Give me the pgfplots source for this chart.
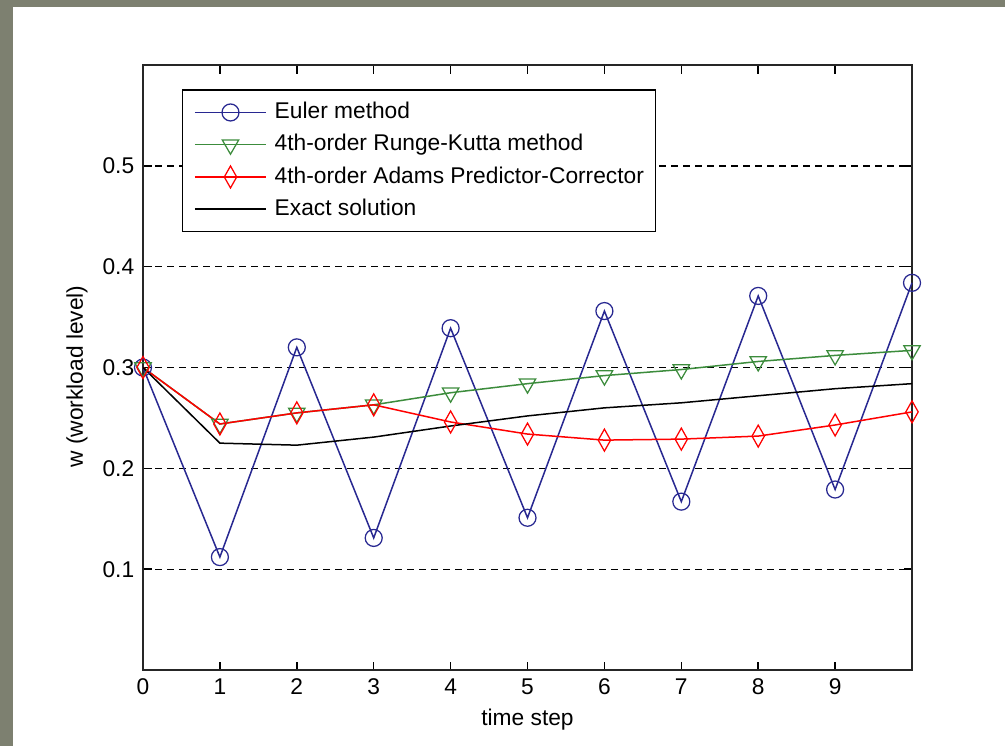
\documentclass[border=0pt]{standalone}
\usepackage{fontspec}
\setmainfont{Liberation Sans}
\usepackage{pgfplots}
\pgfplotsset{compat=1.18}
\definecolor{eulerblue}{RGB}{40,40,145}
\definecolor{rkgreen}{RGB}{60,140,60}
\definecolor{bggray}{RGB}{125,128,112}
\newcommand{\fsz}{\fontsize{9.1}{10}\selectfont}
\begin{document}
\begin{tikzpicture}[x=0.4pt,y=-0.4pt]
% slide background
\fill[bggray] (0,0) rectangle (1005,746);
\fill[white] (13,7) rectangle (1005,746);
\begin{axis}[
  at={(57.2pt,-268pt)}, anchor=south west,
  scale only axis, width=307.6pt, height=242pt,
  xmin=0, xmax=10, ymin=0, ymax=0.6,
  xtick={0,...,9}, ytick={0.1,0.2,0.3,0.4,0.5},
  yticklabel style={/pgf/number format/.cd, fixed, precision=1},
  /pgf/number format/assume math mode=true,
  ymajorgrids,
  grid style={black, line width=0.55pt, dash pattern=on 2.8pt off 2pt},
  tick align=inside, xtick pos=both, ytick pos=both,
  major tick length=3.4pt,
  tick style={black, line width=0.6pt},
  axis line style={black!85, line width=0.7pt},
  ticklabel style={font=\fsz},
  label style={font=\fsz},
  xlabel={time step}, ylabel={w (workload level)},
  xlabel style={at={(axis description cs:0.5,-0.082)}, anchor=center},
  ylabel style={at={(axis description cs:-0.086,0.485)}, anchor=center},
  clip=false,
  legend cell align=left,
  legend image code/.code={\draw[mark repeat=2,mark phase=2] plot coordinates {(0pt,0pt)(14.2pt,0pt)(28.4pt,0pt)};},
  legend style={at={(0.0507,0.960)}, anchor=north west, draw=black, line width=0.6pt,
    font=\fsz, inner xsep=4.6pt, inner ysep=4.5pt, row sep=3.9pt, column sep=3.2pt,
    nodes={inner sep=0pt, text height=7pt, text depth=2pt}},
]
\addplot[eulerblue, line width=0.6pt, mark=o, mark size=3.4pt, mark options={line width=0.5pt}] coordinates {
  (0,0.300) (1,0.112) (2,0.320) (3,0.131) (4,0.339) (5,0.151)
  (6,0.356) (7,0.167) (8,0.371) (9,0.179) (10,0.384)
};
\addlegendentry{Euler method}
\addplot[rkgreen, line width=0.6pt, mark=triangle, mark size=3.8pt, mark options={rotate=180, line width=0.5pt}] coordinates {
  (0,0.300) (1,0.244) (2,0.255) (3,0.263) (4,0.275) (5,0.284)
  (6,0.292) (7,0.298) (8,0.306) (9,0.312) (10,0.317)
};
\addlegendentry{4th-order Runge-Kutta method}
\addplot[red, line width=0.6pt, mark=diamond, mark size=4.4pt, mark options={xscale=0.75, line width=0.5pt}] coordinates {
  (0,0.300) (1,0.244) (2,0.255) (3,0.263) (4,0.246) (5,0.234)
  (6,0.228) (7,0.229) (8,0.232) (9,0.243) (10,0.256)
};
\addlegendentry{4th-order Adams Predictor-Corrector}
\addplot[black, line width=0.6pt] coordinates {
  (0,0.300) (1,0.225) (2,0.223) (3,0.231) (4,0.242) (5,0.252)
  (6,0.260) (7,0.265) (8,0.272) (9,0.279) (10,0.284)
};
\addlegendentry{Exact solution}
\end{axis}
\end{tikzpicture}
\end{document}
